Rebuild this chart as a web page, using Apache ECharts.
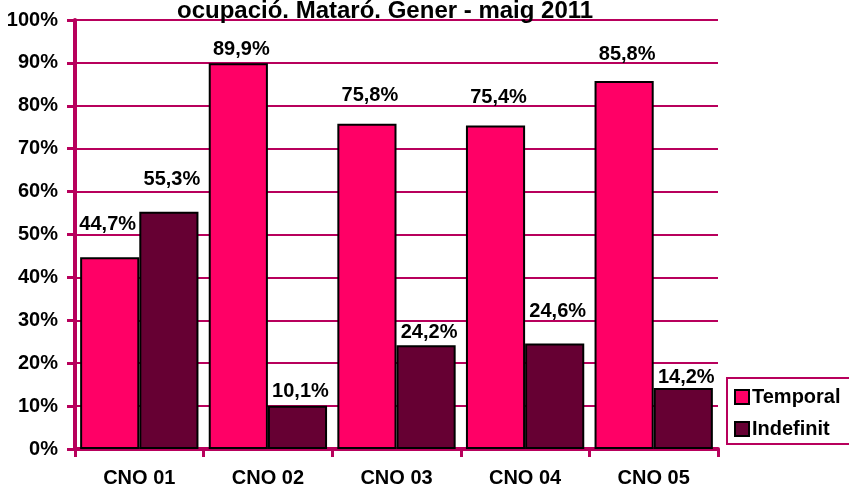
<!DOCTYPE html>
<html>
<head>
<meta charset="utf-8">
<script src="https://cdn.jsdelivr.net/npm/echarts@6/dist/echarts.min.js"></script>
<style>
  html, body { margin: 0; padding: 0; background: #fff; }
  #chart { width: 849px; height: 489px; }
</style>
</head>
<body>
<div id="chart"></div>
<script>
// Occupation groups and the share of temporary vs permanent contracts (%)
const categories = ['CNO 01', 'CNO 02', 'CNO 03', 'CNO 04', 'CNO 05'];
const temporal = [44.7, 89.9, 75.8, 75.4, 85.8];
const indefinit = [55.3, 10.1, 24.2, 24.6, 14.2];
const yTicks = [0, 10, 20, 30, 40, 50, 60, 70, 80, 90, 100];

// How far each value label sits above its bar (px)
const liftTemporal = [23, 4, 18, 18, 16];
const liftIndefinit = [22, 4, 3, 22, 1];
// Sideways nudge of each value label (px)
const shiftTemporal = [-2, 3, 3, 3, 3];
const shiftIndefinit = [3, 3, 3, 3, 3];

const FONT = '"Liberation Sans", Arial, sans-serif';
const AXIS = '#B8005C';

const fmt = v => v.toFixed(1).replace('.', ',') + '%';

function barData(values, lifts, shifts) {
  return values.map((v, i) => ({
    value: v,
    label: { distance: lifts[i], offset: [shifts[i], 0] }
  }));
}

const labelStyle = {
  show: true,
  position: 'top',
  color: '#000',
  fontFamily: FONT,
  fontWeight: 'bold',
  fontSize: 20,
  lineHeight: 20,
  formatter: p => fmt(p.value)
};

const chart = echarts.init(document.getElementById('chart'), null, { renderer: 'canvas' });

chart.setOption({
  animation: false,
  backgroundColor: '#fff',
  title: {
    text: 'ocupació. Mataró. Gener - maig 2011',
    left: 177,
    top: -1,
    padding: 0,
    textStyle: {
      fontFamily: FONT,
      fontWeight: 'bold',
      fontSize: 24,
      lineHeight: 24,
      color: '#000'
    }
  },
  grid: { left: 75, right: 131, top: 20, bottom: 40, containLabel: false },
  legend: {
    orient: 'vertical',
    left: 727,
    top: 378,
    padding: [9, 40, 5, 7],
    itemGap: 12,
    itemWidth: 14,
    itemHeight: 14,
    icon: 'rect',
    borderColor: AXIS,
    borderWidth: 2,
    backgroundColor: '#fff',
    textStyle: {
      fontFamily: FONT,
      fontWeight: 'bold',
      fontSize: 20,
      lineHeight: 20,
      color: '#000',
      padding: [0, 0, 0, -2]
    },
    data: [
      { name: 'Temporal', itemStyle: { borderColor: '#000', borderWidth: 2 } },
      { name: 'Indefinit', itemStyle: { borderColor: '#000', borderWidth: 2 } }
    ]
  },
  xAxis: {
    type: 'category',
    data: categories,
    axisLine: { show: true, lineStyle: { color: AXIS, width: 4 } },
    axisTick: { show: true, length: 8, lineStyle: { color: AXIS, width: 3 } },
    axisLabel: {
      margin: 19,
      color: '#000',
      fontFamily: FONT,
      fontWeight: 'bold',
      fontSize: 20
    }
  },
  yAxis: {
    type: 'value',
    min: 0,
    max: 100,
    interval: 10,
    axisLine: { show: true, lineStyle: { color: AXIS, width: 4 } },
    axisTick: { show: true, length: 8, lineStyle: { color: AXIS, width: 3 } },
    splitLine: { show: true, lineStyle: { color: AXIS, width: 2 } },
    axisLabel: {
      margin: 17,
      color: '#000',
      fontFamily: FONT,
      fontWeight: 'bold',
      fontSize: 20,
      formatter: v => (yTicks.includes(v) ? v + '%' : '')
    }
  },
  series: [
    {
      name: 'Temporal',
      type: 'bar',
      data: barData(temporal, liftTemporal, shiftTemporal),
      barGap: '0%',
      barCategoryGap: '8%',
      itemStyle: { color: '#FF0066', borderColor: '#000', borderWidth: 2 },
      label: labelStyle
    },
    {
      name: 'Indefinit',
      type: 'bar',
      data: barData(indefinit, liftIndefinit, shiftIndefinit),
      barGap: '0%',
      barCategoryGap: '8%',
      itemStyle: { color: '#660033', borderColor: '#000', borderWidth: 2 },
      label: labelStyle
    }
  ]
});
</script>
</body>
</html>
